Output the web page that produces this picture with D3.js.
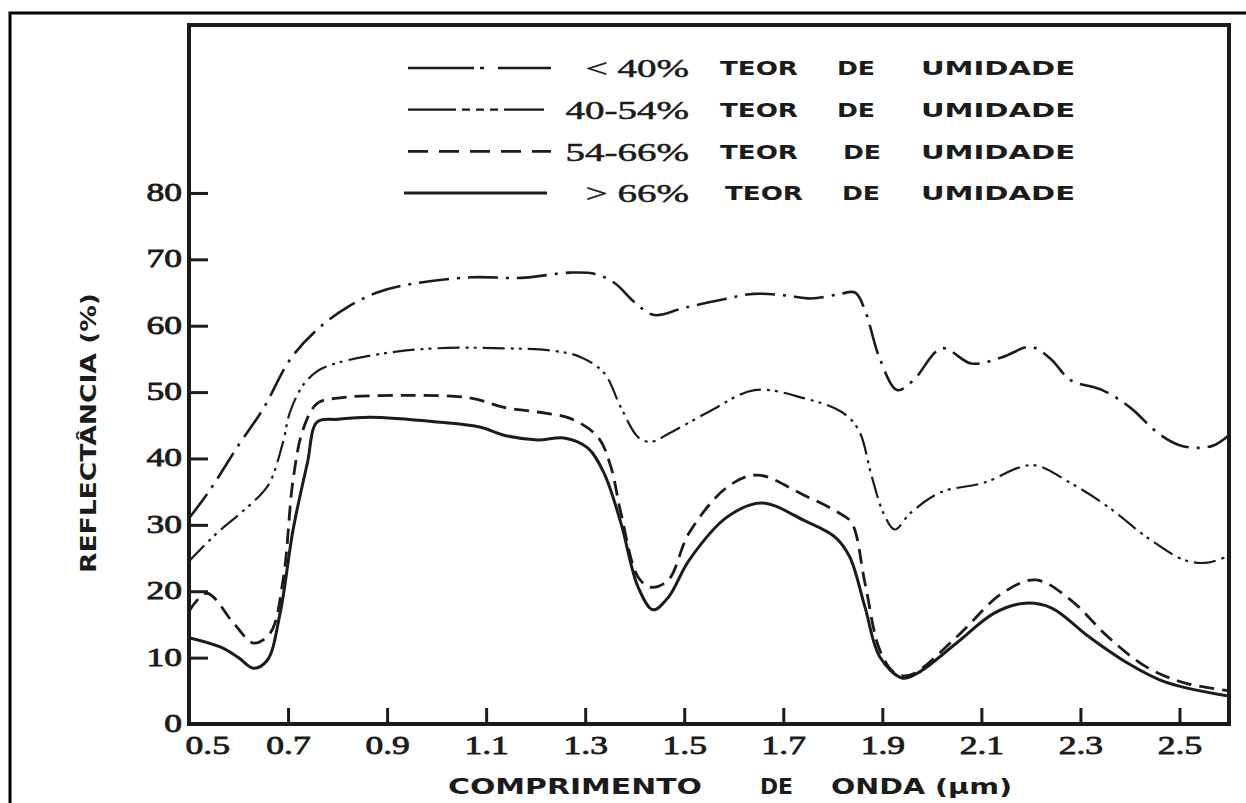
<!DOCTYPE html>
<html>
<head>
<meta charset="utf-8">
<script src="https://cdn.jsdelivr.net/npm/d3@7"></script>
<style>
  body { margin: 0; background: #fff; }
</style>
</head>
<body>
<div id="chart"></div>
<script>
// ---- data ----
const seriesLabels = ["< 40%", "40-54%", "54-66%", "> 66%"];
const legendWords = ["TEOR", "DE", "UMIDADE"];
const wavelengthTicks = [0.5, 0.7, 0.9, 1.1, 1.3, 1.5, 1.7, 1.9, 2.1, 2.3, 2.5];
const reflectanceTicks = [0, 10, 20, 30, 40, 50, 60, 70, 80];

// < 40% moisture
const wl40 = [0.50, 0.54, 0.60, 0.65, 0.705, 0.76, 0.82, 0.88, 0.95, 1.07, 1.17, 1.27, 1.32, 1.36, 1.40, 1.44, 1.50, 1.58, 1.64, 1.70, 1.757, 1.81, 1.845, 1.865, 1.895, 1.93, 1.963, 2.02, 2.08, 2.14, 2.20, 2.24, 2.28, 2.344, 2.40, 2.457, 2.50, 2.54, 2.57, 2.60];
const refl40 = [31, 35, 42, 47.5, 55, 59.5, 62.8, 65, 66.3, 67.3, 67.2, 68, 67.8, 66.4, 63.5, 61.6, 62.7, 64, 64.8, 64.6, 64.1, 64.7, 65, 62.3, 55, 50.3, 51.8, 56.6, 54.3, 55.2, 56.8, 55, 51.8, 50.3, 47.7, 43.8, 42, 41.6, 42, 43.5];

// 40-54% moisture
const wl54 = [0.50, 0.557, 0.60, 0.644, 0.664, 0.69, 0.704, 0.73, 0.76, 0.80, 0.90, 1.00, 1.136, 1.237, 1.29, 1.338, 1.372, 1.407, 1.433, 1.47, 1.549, 1.642, 1.741, 1.818, 1.852, 1.879, 1.902, 1.925, 1.957, 2.018, 2.103, 2.203, 2.28, 2.356, 2.433, 2.51, 2.557, 2.60];
const refl54 = [24.5, 28.8, 31.5, 34.5, 36.5, 42.5, 47, 51, 53.2, 54.4, 55.9, 56.6, 56.6, 56.2, 55.3, 52.9, 47.7, 43.2, 42.5, 43.8, 47, 50.3, 49.1, 47, 44.3, 37.2, 31.8, 29.3, 31.8, 34.9, 36.3, 39, 36.3, 32.7, 28.2, 24.7, 24.3, 25.4];

// 54-66% moisture
const wl66 = [0.50, 0.536, 0.59, 0.63, 0.664, 0.69, 0.71, 0.73, 0.759, 0.80, 0.933, 1.069, 1.136, 1.204, 1.271, 1.326, 1.352, 1.372, 1.407, 1.433, 1.468, 1.51, 1.587, 1.648, 1.741, 1.81, 1.838, 1.865, 1.895, 1.925, 1.957, 2.05, 2.142, 2.21, 2.28, 2.356, 2.433, 2.51, 2.60];
const refl66 = [17, 19.7, 15.2, 12.2, 13.7, 21.7, 36.7, 44.3, 48.3, 49.1, 49.5, 49.1, 47.7, 47, 46, 43.2, 38.7, 31.8, 22.1, 20.6, 21.7, 28.8, 35.7, 37.5, 34.5, 31.9, 30.3, 21.2, 11.1, 7.7, 7.4, 13.1, 19.7, 21.7, 18.7, 13.1, 8.6, 6.2, 5.0];

// > 66% moisture
const wlWet = [0.50, 0.563, 0.60, 0.63, 0.658, 0.684, 0.71, 0.739, 0.759, 0.80, 0.866, 1.0, 1.089, 1.136, 1.204, 1.257, 1.305, 1.338, 1.372, 1.407, 1.437, 1.468, 1.51, 1.587, 1.656, 1.741, 1.804, 1.834, 1.865, 1.895, 1.941, 1.972, 2.05, 2.126, 2.188, 2.241, 2.318, 2.395, 2.472, 2.60];
const reflWet = [13, 11.6, 10, 8.4, 9.6, 16.7, 29.2, 39.3, 45.5, 45.9, 46.2, 45.5, 44.7, 43.5, 42.8, 43.1, 41.6, 37.8, 30.3, 20.6, 17.2, 19.1, 24.7, 31.2, 33.3, 30.7, 28.2, 25.2, 17.6, 10.1, 6.9, 7.7, 12.2, 16.7, 18.2, 17.5, 13.1, 9.2, 6.3, 4.2];

class Chart {
    constructor() {
        // Defining state attributes
        const attrs = {
            id: "ID" + Math.floor(Math.random() * 1000000),
            svgWidth: 1246,
            svgHeight: 803,
            plotLeft: 189,
            plotRight: 1229,
            plotTop: 25,
            plotBottom: 724,
            container: "body",
            ink: "#1b1b1b",
            tickFont: "'Liberation Serif', 'DejaVu Serif', serif",
            titleFont: "'DejaVu Sans', 'Liberation Sans', sans-serif",
            data: null
        };

        this.getState = () => attrs;
        this.setState = (d) => Object.assign(attrs, d);

        Object.keys(attrs).forEach((key) => {
            this[key] = function (_) {
                if (!arguments.length) {
                    return attrs[key];
                }
                attrs[key] = _;
                return this;
            };
        });

        this.initializeEnterExitUpdatePattern();
    }

    render() {
        this.calculateProperties();
        this.drawSvgAndWrappers();
        this.drawFrame();
        this.drawAxes();
        this.drawCurves();
        this.drawLegend();
        this.drawTitles();
        return this;
    }

    calculateProperties() {
        const { plotLeft, plotRight, plotTop, plotBottom } = this.getState();

        const x = d3.scaleLinear().domain([0.5, 2.6]).range([plotLeft, plotRight]);
        const y = d3.scaleLinear().domain([0, 105.3]).range([plotBottom, plotTop]);

        // line styles per moisture class (dash patterns as in the original print)
        const styles = [
            { dash: "30,8,3,8", width: 2.6, legendDash: "66,6,4,14,60" },
            { dash: "22,6,3,5,3,6", width: 2.2, legendDash: "48,6,8,6,8,6,8,6,40" },
            { dash: "15,8", width: 2.8, legendDash: "20,11" },
            { dash: null, width: 3, legendDash: null }
        ];

        this.setState({ x, y, styles });
    }

    drawSvgAndWrappers() {
        const { container, svgWidth, svgHeight } = this.getState();

        const svg = d3.select(container)._add('svg.svg-container')
            .attr("width", svgWidth)
            .attr("height", svgHeight)
            .style("background", "#fff")
            .style("display", "block");

        const chart = svg._add('g.chart');

        this.setState({ svg, chart });
    }

    drawFrame() {
        const { chart, svgWidth, svgHeight, plotLeft, plotRight, plotTop, plotBottom, ink } = this.getState();

        // outer page border (open to the right and bottom)
        chart._add('path.outer-border')
            .attr('d', `M10,${svgHeight} V13 H${svgWidth}`)
            .attr('fill', 'none')
            .attr('stroke', '#000')
            .attr('stroke-width', 3);

        chart._add('rect.plot-frame')
            .attr('x', plotLeft)
            .attr('y', plotTop)
            .attr('width', plotRight - plotLeft)
            .attr('height', plotBottom - plotTop)
            .attr('fill', 'none')
            .attr('stroke', ink)
            .attr('stroke-width', 4);
    }

    drawAxes() {
        const { chart, x, y, plotLeft, plotBottom, ink, tickFont } = this.getState();
        const stretch = 1.42;

        const xAxis = d3.axisBottom(x)
            .tickValues(wavelengthTicks)
            .tickSize(-16)
            .tickPadding(12)
            .tickFormat(d3.format(".1f"));

        const yAxis = d3.axisLeft(y)
            .tickValues(reflectanceTicks)
            .tickSize(-19)
            .tickPadding(7)
            .tickFormat(d3.format("d"));

        const styleAxis = (g) => {
            g.select('.domain').remove();
            g.selectAll('.tick line').attr('stroke', ink).attr('stroke-width', 3);
            g.selectAll('.tick text')
                .attr('fill', ink)
                .attr('stroke', ink)
                .attr('stroke-width', 0.8)
                .attr('font-family', tickFont)
                .attr('font-size', 25)
                .each(function () {
                    const w = this.getComputedTextLength();
                    d3.select(this).attr('textLength', w * stretch).attr('lengthAdjust', 'spacingAndGlyphs');
                });
        };

        const gx = chart._add('g.x-axis')
            .attr('transform', `translate(0,${plotBottom})`)
            .call(xAxis)
            .call(styleAxis);

        // first wavelength sits on the y axis: no tick, label pushed right
        gx.selectAll('.tick').filter(d => d === wavelengthTicks[0])
            .call(t => t.select('line').remove())
            .select('text')
            .attr('text-anchor', 'start')
            .attr('x', -4);

        const gy = chart._add('g.y-axis')
            .attr('transform', `translate(${plotLeft},0)`)
            .call(yAxis)
            .call(styleAxis);

        gy.selectAll('.tick').filter(d => d === 0).select('line').remove();
        gy.selectAll('.tick text').attr('dy', '0.3em');
    }

    drawCurves() {
        const { chart, x, y, styles, ink } = this.getState();

        const wls = [wl40, wl54, wl66, wlWet];
        const refls = [refl40, refl54, refl66, reflWet];
        const series = seriesLabels.map((label, i) => ({
            id: 'series-' + i,
            label,
            style: styles[i],
            points: d3.zip(wls[i], refls[i])
        }));

        const line = d3.line()
            .x(d => x(d[0]))
            .y(d => y(d[1]))
            .curve(d3.curveCatmullRom.alpha(0.5));

        chart._add('path.curve', series)
            .attr('d', d => line(d.points))
            .attr('fill', 'none')
            .attr('stroke', ink)
            .attr('stroke-width', d => d.style.width)
            .attr('stroke-dasharray', d => d.style.dash)
            .attr('stroke-linejoin', 'round');
    }

    drawLegend() {
        const { chart, styles, ink, tickFont, titleFont } = this.getState();

        const rows = seriesLabels.map((label, i) => ({ id: 'legend-' + i, label, i, style: styles[i] }));

        const rowG = chart._add('g.legend-row', rows)
            .attr('transform', d => `translate(0,${68 + d.i * 41.7})`);

        rowG._add('line.legend-line', d => [d])
            .attr('x1', d => d.i === 3 ? 404 : 408)
            .attr('x2', d => d.i === 3 ? 547 : 551)
            .attr('stroke', ink)
            .attr('stroke-width', d => d.style.width)
            .attr('stroke-dasharray', d => d.style.legendDash);

        rowG._add('text.legend-pct', d => [d])
            .attr('x', 689)
            .attr('dy', '0.35em')
            .attr('text-anchor', 'end')
            .attr('font-family', tickFont)
            .attr('font-size', 26)
            .attr('fill', ink)
            .attr('stroke', ink)
            .attr('stroke-width', 0.5)
            .text(d => d.label)
            .each(function () {
                const w = this.getComputedTextLength();
                d3.select(this).attr('textLength', w * 1.5).attr('lengthAdjust', 'spacingAndGlyphs');
            });

        const wordPos = [{ x: 720, w: 78 }, { x: 837, w: 38 }, { x: 921, w: 154 }];
        rowG._add('text.legend-word', d => legendWords.map((word, k) => ({ word, k, row: d.i })))
            .attr('x', d => wordPos[d.k].x + (d.row === 3 && d.k < 2 ? 5 : 0) + (d.row === 2 && d.k === 1 ? 6 : 0))
            .attr('dy', '0.36em')
            .attr('font-family', titleFont)
            .attr('font-weight', 'bold')
            .attr('font-size', 20)
            .attr('fill', ink)
            .attr('textLength', d => wordPos[d.k].w)
            .attr('lengthAdjust', 'spacingAndGlyphs')
            .text(d => d.word);
    }

    drawTitles() {
        const { chart, ink, titleFont } = this.getState();

        chart._add('text.y-title')
            .attr('transform', 'translate(88,433) rotate(-90)')
            .attr('text-anchor', 'middle')
            .attr('dy', '0.36em')
            .attr('font-family', titleFont)
            .attr('font-weight', 'bold')
            .attr('font-size', 21)
            .attr('fill', ink)
            .attr('textLength', 280)
            .attr('lengthAdjust', 'spacingAndGlyphs')
            .text('REFLECTÂNCIA (%)');

        const xTitle = [
            { text: 'COMPRIMENTO', x: 448, w: 254 },
            { text: 'DE', x: 760, w: 33 },
            { text: 'ONDA (µm)', x: 831, w: 181 }
        ];

        chart._add('text.x-title', xTitle)
            .attr('x', d => d.x)
            .attr('y', 786)
            .attr('dy', '0.36em')
            .attr('font-family', titleFont)
            .attr('font-weight', 'bold')
            .attr('font-size', 21)
            .attr('fill', ink)
            .attr('textLength', d => d.w)
            .attr('lengthAdjust', 'spacingAndGlyphs')
            .text(d => d.text);
    }

    initializeEnterExitUpdatePattern() {
        d3.selection.prototype._add = function (classSelector, data) {
            const container = this;
            const split = classSelector.split(".");
            const elementTag = split[0];
            const className = split[1] || 'not-good';

            let bindData = data;
            if (bindData && typeof bindData !== 'function' && !Array.isArray(bindData)) {
                bindData = [bindData];
            }
            if (!bindData) {
                bindData = [className];
            }

            let selection = container.selectAll(elementTag + '.' + className).data(bindData, (d, i) => {
                if (typeof d === "object" && d.id) return d.id;
                return i;
            });
            selection.exit().remove();
            selection = selection.enter().append(elementTag).merge(selection);
            selection.attr("class", className);
            return selection;
        };
    }
}

new Chart()
    .container('#chart')
    .render();
</script>
</body>
</html>
